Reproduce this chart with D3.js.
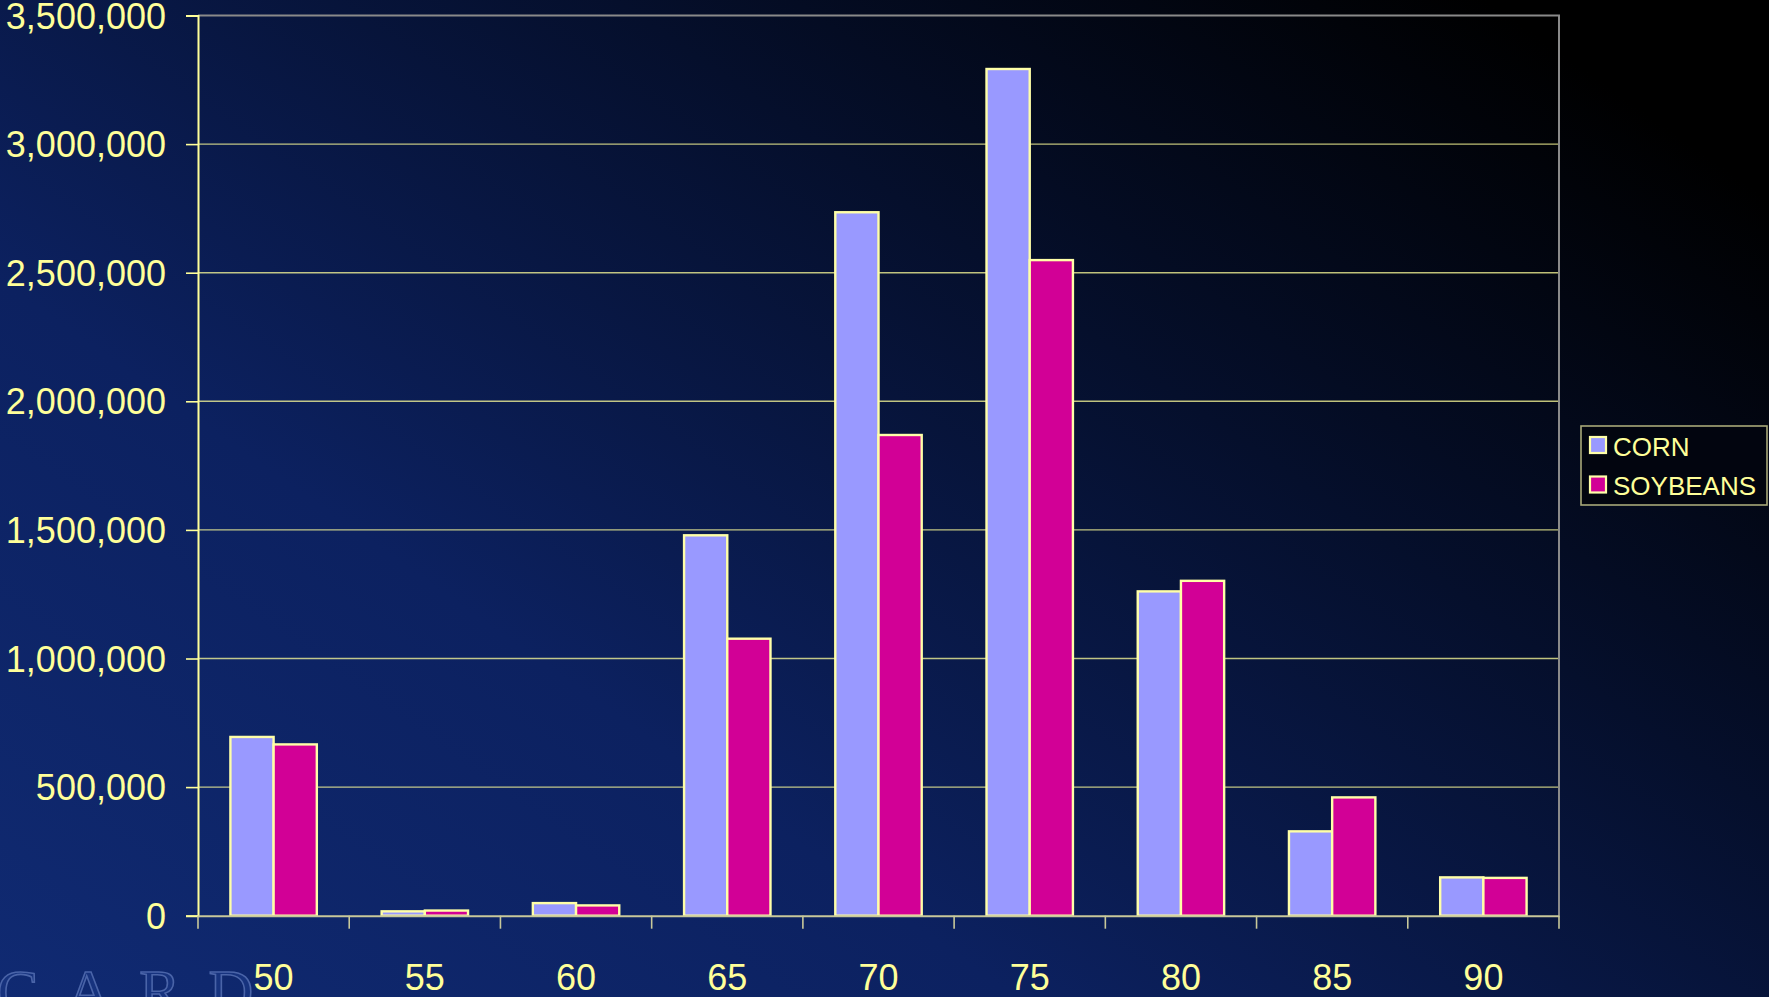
<!DOCTYPE html>
<html>
<head>
<meta charset="utf-8">
<script src="https://cdn.jsdelivr.net/npm/d3@7/dist/d3.min.js"></script>
<style>
  html, body { margin: 0; padding: 0; background: #000; overflow: hidden; }
  svg { display: block; }
</style>
</head>
<body>
<svg id="chart" width="1769" height="997"></svg>
<script>
// Harvested acres by year (19xx)
const categories = ["50", "55", "60", "65", "70", "75", "80", "85", "90"];
const seriesNames = ["CORN", "SOYBEANS"];
const cornValues = [695000, 17000, 49000, 1479000, 2735000, 3292000, 1261000, 328000, 149000];
const soyValues  = [666000, 20000, 40000, 1077000, 1869000, 2549000, 1302000, 460000, 147000];
const yTicks = [0, 500000, 1000000, 1500000, 2000000, 2500000, 3000000, 3500000];

const seriesColors = { "CORN": "#9999ff", "SOYBEANS": "#d20096" };
const textColor = "#ffff99";
const font = "'Liberation Sans', Arial, sans-serif";

const W = 1769, H = 997;
const plot = { left: 198, right: 1559, top: 15.5, bottom: 915.7 };

const svg = d3.select("#chart");

// background: blue fading to black toward the upper right
const defs = svg.append("defs");
const bg = defs.append("linearGradient").attr("id", "bg")
  .attr("x1", "0").attr("y1", "1").attr("x2", "1").attr("y2", "0.2");
bg.append("stop").attr("offset", "0").attr("stop-color", "#102a72");
bg.append("stop").attr("offset", "0.35").attr("stop-color", "#0c2160");
bg.append("stop").attr("offset", "0.7").attr("stop-color", "#050f2c");
bg.append("stop").attr("offset", "1").attr("stop-color", "#000000");
svg.append("rect").attr("width", W).attr("height", H).attr("fill", "url(#bg)");

// embossed logo lettering in the lower-left corner
svg.append("text")
  .attr("x", -3).attr("y", 1012)
  .attr("font-family", "'Liberation Serif', 'DejaVu Serif', serif")
  .attr("font-size", 62)
  .attr("letter-spacing", 28)
  .attr("fill", "#17337e")
  .attr("stroke", "#4a64a8").attr("stroke-width", 1.6)
  .text("CARD");

const x0 = d3.scaleBand().domain(categories).range([plot.left, plot.right]).padding(0);
const x1 = d3.scaleBand().domain(seriesNames).range([0, x0.bandwidth()])
  .paddingInner(0).paddingOuter(0.75);
const y = d3.scaleLinear().domain([0, 3500000]).range([plot.bottom, plot.top]);

// horizontal gridlines
svg.append("g").selectAll("line").data(yTicks.filter(d => d > 0 && d < 3500000)).join("line")
  .attr("x1", plot.left).attr("x2", plot.right)
  .attr("y1", d => y(d)).attr("y2", d => y(d))
  .attr("stroke", "#ffff99").attr("stroke-opacity", 0.75).attr("stroke-width", 1.4);

// plot frame: top and right edges
svg.append("path")
  .attr("d", `M${plot.left},${plot.top}H${plot.right}V${plot.bottom}`)
  .attr("fill", "none").attr("stroke", "#8a8a8a").attr("stroke-width", 2);

// bars
const rows = categories.map((c, i) => ({ cat: c, vals: [
  { name: "CORN", value: cornValues[i] },
  { name: "SOYBEANS", value: soyValues[i] }
]}));

svg.append("g").selectAll("g").data(rows).join("g")
  .attr("transform", d => `translate(${x0(d.cat)},0)`)
  .selectAll("rect").data(d => d.vals).join("rect")
  .attr("x", d => x1(d.name))
  .attr("width", x1.bandwidth())
  .attr("y", d => y(d.value))
  .attr("height", d => y(0) - y(d.value))
  .attr("fill", d => seriesColors[d.name])
  .attr("stroke", "#ffffa8").attr("stroke-width", 2.4);

// y axis
const yAxis = d3.axisLeft(y).tickValues(yTicks).tickSize(12).tickPadding(20)
  .tickFormat(d3.format(","));
const gy = svg.append("g").attr("transform", `translate(${plot.left},0)`).call(yAxis);
gy.select(".domain").attr("stroke", "#ffff99").attr("stroke-width", 2);
gy.selectAll(".tick line").attr("stroke", "#ffff99").attr("stroke-width", 1.6);
gy.selectAll(".tick text").attr("fill", textColor)
  .attr("font-family", font).attr("font-size", 36).attr("dy", "0.35em");

// x axis
const xAxis = d3.axisBottom(x0).tickSize(0).tickPadding(0);
const gx = svg.append("g").attr("transform", `translate(0,${plot.bottom})`).call(xAxis);
gx.select(".domain").attr("stroke", "#c8c89a").attr("stroke-width", 2);
gx.selectAll(".tick text").attr("fill", textColor)
  .attr("font-family", font).attr("font-size", 36)
  .attr("dy", null).attr("y", 74);

// tick marks at category boundaries
const bounds = categories.map(c => x0(c)).concat([plot.right]);
svg.append("g").selectAll("line").data(bounds).join("line")
  .attr("x1", d => d).attr("x2", d => d)
  .attr("y1", plot.bottom).attr("y2", plot.bottom + 13)
  .attr("stroke", "#c8c89a").attr("stroke-width", 1.6);

// legend
const legend = svg.append("g").attr("transform", "translate(1581,426)");
legend.append("rect").attr("width", 186).attr("height", 79)
  .attr("fill", "#02050f").attr("stroke", "#a8a878").attr("stroke-width", 1.6);
const li = legend.selectAll("g").data(seriesNames).join("g")
  .attr("transform", (d, i) => `translate(9,${11 + i * 39.5})`);
li.append("rect").attr("width", 16).attr("height", 16)
  .attr("fill", d => seriesColors[d])
  .attr("stroke", "#ffffa8").attr("stroke-width", 2.2);
li.append("text").attr("x", 23).attr("y", 18.5)
  .attr("fill", textColor).attr("font-family", font).attr("font-size", 26)
  .text(d => d);
</script>
</body>
</html>
